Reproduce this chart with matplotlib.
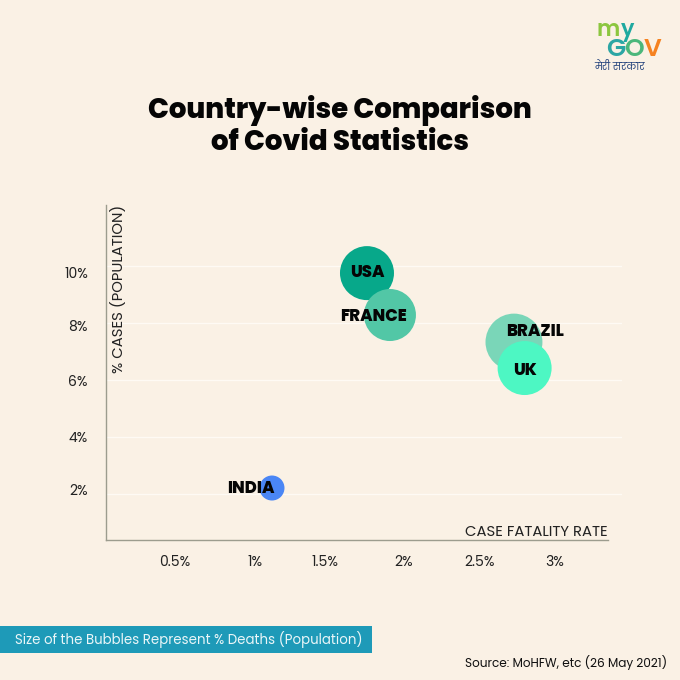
import matplotlib
matplotlib.use("Agg")
import logging
logging.getLogger("matplotlib.font_manager").setLevel(logging.ERROR)
import matplotlib.pyplot as plt
from matplotlib.patches import Rectangle
from matplotlib.transforms import ScaledTranslation

countries = ["USA", "FRANCE", "BRAZIL", "UK", "INDIA"]
fatality_rate = [1.763, 1.914, 2.73, 2.80, 1.138]
cases_pct = [9.75, 8.28, 7.33, 6.42, 2.21]
deaths_pct = [0.18, 0.167, 0.2, 0.18, 0.0386]
bubble_colors = ["#07A88A", "#52C7A6", "#7AD6B8", "#4DF7C3", "#4A86F5"]
label_offsets_px = [(0, 0), (-16, -2), (21, 10), (0, -3), (-21, -1)]
x_ticks = [0.5, 1, 1.5, 2, 2.5, 3]
x_tick_labels = ["0.5%", "1%", "1.5%", "2%", "2.5%", "3%"]
y_ticks = [2, 4, 6, 8, 10]
y_tick_labels = ["2%", "4%", "6%", "8%", "10%"]
y_label_nudge_px = [4, 0, -1, -3, -7]
x_label_nudge_px = [0, 4, -2, 1, 0, 0]

BG = "#FAF1E5"
W = H = 680
plt.rcParams["font.family"] = ["Poppins", "Inter", "DejaVu Sans"]

fig = plt.figure(figsize=(6.8, 6.8), dpi=100, facecolor=BG)
ax = fig.add_axes([106 / W, 140 / H, 516 / W, 335 / H], facecolor=BG)
ax.set_xlim(0.046, 0.046 + 516 / 152)
ax.set_ylim(0.386, 12.14)

ax.set_xticks(x_ticks, x_tick_labels)
ax.set_yticks(y_ticks, y_tick_labels)
ax.tick_params(length=0, labelsize=10, labelcolor="#222222")
ax.tick_params(axis="x", pad=11)
ax.tick_params(axis="y", pad=13)
ax.yaxis.grid(True, color="#FEFAF4", lw=1)
ax.set_axisbelow(True)
for s in ("top", "right"):
    ax.spines[s].set_visible(False)
for s in ("left", "bottom"):
    ax.spines[s].set_color("#9C9C8E")
    ax.spines[s].set_linewidth(1.0)
ax.spines["bottom"].set_bounds(0.046, 0.046 + 502 / 152)

for lab, n in zip(ax.get_yticklabels(), y_label_nudge_px):
    lab.set_transform(lab.get_transform() + ScaledTranslation(0, n / 100, fig.dpi_scale_trans))
for lab, n in zip(ax.get_xticklabels(), x_label_nudge_px):
    lab.set_transform(lab.get_transform() + ScaledTranslation(n / 100, 0, fig.dpi_scale_trans))

ax.scatter(fatality_rate, cases_pct, s=[d * 8400 for d in deaths_pct],
           c=bubble_colors, linewidths=0, zorder=3)
for name, x, y, off in zip(countries, fatality_rate, cases_pct, label_offsets_px):
    ax.annotate(name, (x, y), xytext=(off[0] * 0.72, off[1] * 0.72), textcoords="offset points",
                ha="center", va="center", fontsize=11.9, fontweight=800, color="#050505", zorder=4)


def px(x, y):
    return x / W, 1 - y / H


fig.text(*px(340, 110), "Country-wise Comparison", ha="center", va="center", fontsize=19.9, fontweight=800, color="#050505")
fig.text(*px(340, 143), "of Covid Statistics", ha="center", va="center", fontsize=19.9, fontweight=800, color="#050505")
fig.text(*px(536, 532), "CASE FATALITY RATE", ha="center", va="center", fontsize=10.7, color="#222222")
fig.text(*px(119, 289), "% CASES (POPULATION)", ha="center", va="center", rotation=90, fontsize=10.7, color="#222222")

fig.add_artist(Rectangle((0, 1 - 653 / H), 372 / W, 27 / H, transform=fig.transFigure, facecolor="#1E9AB8", edgecolor="none"))
fig.text(*px(15, 639), "Size of the Bubbles Represent % Deaths (Population)", ha="left", va="center", fontsize=9.6, color="#EAF6F8")
fig.text(*px(667, 663), "Source: MoHFW, etc (26 May 2021)", ha="right", va="center", fontsize=8.7, color="#111111")

# logo
for s, x, y, c, fs in [("m", 597, 31, "#8CC63F", 16), ("y", 621, 31, "#1FA9A0", 16),
                       ("G", 606, 50, "#2CA6A4", 18), ("O", 624, 50, "#4CB77B", 18), ("V", 644, 50, "#F58220", 18)]:
    fig.text(*px(x, y), s, ha="left", va="center", fontsize=fs, fontweight=600, color=c)
fig.text(*px(620, 68), "मेरी सरकार", ha="center", va="center", fontsize=7.2, color="#1F3F7A",
         family=["Poppins", "Anek Devanagari", "Akshar", "DejaVu Sans"])

fig.savefig("out.png", dpi=100, facecolor=BG)
